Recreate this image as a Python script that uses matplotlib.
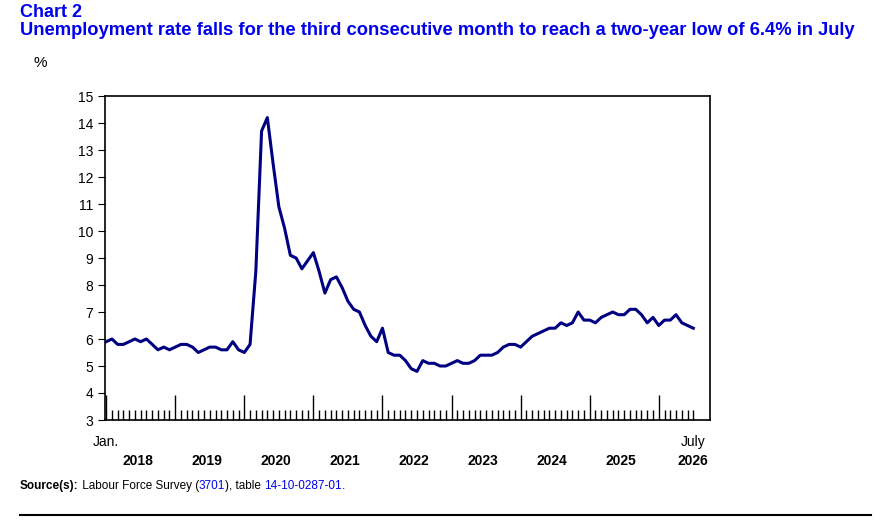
import matplotlib.pyplot as plt
import numpy as np

years = ['2018', '2019', '2020', '2021', '2022', '2023', '2024', '2025', '2026']
rate = [5.9, 6.0, 5.8, 5.8, 5.9, 6.0, 5.9, 6.0, 5.8, 5.6, 5.7, 5.6,
        5.7, 5.8, 5.8, 5.7, 5.5, 5.6, 5.7, 5.7, 5.6, 5.6, 5.9, 5.6,
        5.5, 5.8, 8.5, 13.7, 14.2, 12.5, 10.9, 10.1, 9.1, 9.0, 8.6, 8.9,
        9.2, 8.5, 7.7, 8.2, 8.3, 7.9, 7.4, 7.1, 7.0, 6.5, 6.1, 5.9,
        6.4, 5.5, 5.4, 5.4, 5.2, 4.9, 4.8, 5.2, 5.1, 5.1, 5.0, 5.0,
        5.1, 5.2, 5.1, 5.1, 5.2, 5.4, 5.4, 5.4, 5.5, 5.7, 5.8, 5.8,
        5.7, 5.9, 6.1, 6.2, 6.3, 6.4, 6.4, 6.6, 6.5, 6.6, 7.0, 6.7,
        6.7, 6.6, 6.8, 6.9, 7.0, 6.9, 6.9, 7.1, 7.1, 6.9, 6.6, 6.8,
        6.5, 6.7, 6.7, 6.9, 6.6, 6.5, 6.4]

plt.rcParams['font.family'] = ['Liberation Sans', 'DejaVu Sans']
fig = plt.figure(figsize=(8.91, 5.29), dpi=100)
ax = fig.add_axes([105/891, 1 - 420/529, 605/891, 324/529])

x = np.arange(len(rate))
ax.plot(x, rate, color='#000080', linewidth=2.2)
ax.set_xlim(-0.2, 104.9)
ax.set_ylim(3, 15)
ax.set_yticks(range(3, 16))
ax.tick_params(axis='y', direction='out', length=5, labelsize=10)
for s in ax.spines.values():
    s.set_linewidth(1.2)

ax.set_xticks(np.arange(0, len(rate), 12))
ax.set_xticks(x, minor=True)
ax.tick_params(axis='x', which='major', direction='in', length=18, width=1, labelbottom=False)
ax.tick_params(axis='x', which='minor', direction='in', length=7, width=1)

ax.text(0, -0.045, 'Jan.', transform=ax.get_xaxis_transform(), ha='center', va='top', fontsize=10)
ax.text(102, -0.045, 'July', transform=ax.get_xaxis_transform(), ha='center', va='top', fontsize=10)
for i, yr in enumerate(years):
    mid = 102 if yr == '2026' else i * 12 + 5.5
    ax.text(mid, -0.105, yr, transform=ax.get_xaxis_transform(), ha='center', va='top',
            fontsize=10, fontweight='bold')

fig.text(33/891, 1 - 70/529, '%', fontsize=11, ha='left', va='bottom')
fig.text(20/891, 1 - 4/529, 'Chart 2', fontsize=13, fontweight='bold', color='#0000ee', va='top')
fig.text(20/891, 1 - 22/529,
         'Unemployment rate falls for the third consecutive month to reach a two-year low of 6.4% in July',
         fontsize=13.2, fontweight='bold', color='#0000ee', va='top')

# source line, pieces chained one after another
parts = [('Source(s):', 'black', 'bold'), (' Labour Force Survey (', 'black', 'normal'),
         ('3701', '#0000ee', 'normal'), ('), table ', 'black', 'normal'),
         ('14-10-0287-01', '#0000ee', 'normal'), ('.', 'black', 'normal')]
prev = fig.text(20/891, 1 - 492/529, parts[0][0], fontsize=8.5, color=parts[0][1],
                fontweight=parts[0][2], va='bottom')
for txt, col, wt in parts[1:]:
    prev = fig.text(0, 0, txt, fontsize=8.5, color=col, fontweight=wt, va='bottom',
                    transform=prev.get_transform())
    prev._prev = None
fig.canvas.draw()
texts = fig.texts[-len(parts):]
r = fig.canvas.get_renderer()
xpos = texts[0].get_window_extent(r).x1
for t in texts[1:]:
    t.set_transform(None)
    t.set_position((xpos, fig.bbox.height * (1 - 492/529)))
    t.set_transform(fig.dpi_scale_trans.inverted() + fig.dpi_scale_trans)
    xpos = t.get_window_extent(r).x1
fig.add_artist(plt.Line2D([20/891, 871/891], [1 - 515/529] * 2, color='black', linewidth=1.5))

fig.savefig('out.png', dpi=100)
